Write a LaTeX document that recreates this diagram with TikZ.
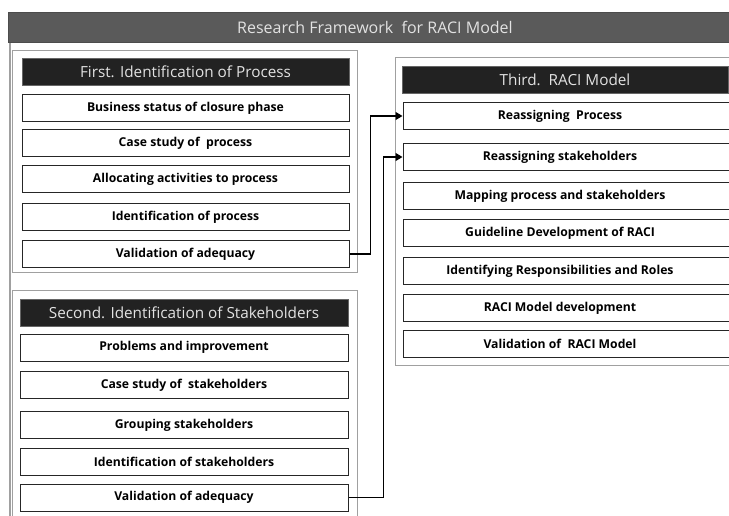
\documentclass[tikz,border=0pt]{standalone}
\usepackage{fontspec}
\setmainfont{Open Sans}
\usetikzlibrary{arrows.meta}
\definecolor{bargray}{HTML}{5A5A5A}
\definecolor{headblack}{HTML}{222222}
\definecolor{headtext}{HTML}{E2E2E2}
\definecolor{framegray}{HTML}{A0A0A0}
\begin{document}
\begin{tikzpicture}[x=1pt,y=-1pt,
  panel/.style={draw=framegray,line width=0.9pt},
  head/.style={draw=black!60,fill=headblack,text=headtext,line width=0.8pt,
    minimum height=27pt,inner sep=0pt,font=\fontsize{15.3}{17}\selectfont},
  item/.style={draw=black!85,line width=1pt,minimum height=27pt,inner sep=0pt,
    font=\bfseries\fontsize{12.2}{14}\selectfont},
  link/.style={line width=1.2pt,-{Triangle[length=7pt,width=8pt]}}]
\useasboundingbox (0,0) rectangle (729,516);
\clip (0,0) rectangle (729,516);
% outer frame and title
\fill[white] (0,0) rectangle (729,516);
\draw[framegray,line width=2pt] (10,42) -- (10,530);
\node[draw=black!70,fill=bargray,text=headtext,minimum width=734pt,minimum height=30pt,
  inner sep=0pt,font=\fontsize{16}{18}\selectfont] (title) at (375,27) {Research Framework\ \ for RACI Model};
% first panel
\draw[panel] (12,50) rectangle (357,272);
\node[head,minimum width=327pt] (head1) at (185.5,71.5) {First. Identification of Process};
\node[item,minimum width=327pt] (p1) at (185.5,108) {Business status of closure phase};
\node[item,minimum width=327pt] (p2) at (185.5,143.5) {Case study of\ \ process};
\node[item,minimum width=327pt] (p3) at (185.5,179.5) {Allocating activities\ to process};
\node[item,minimum width=327pt] (p4) at (185.5,217) {Identification of process};
\node[item,minimum width=327pt] (p5) at (185.5,254) {Validation of adequacy};
% second panel
\draw[panel] (12,290) rectangle (357,530);
\node[head,minimum width=328pt] (head2) at (184,312.5) {Second. Identification of Stakeholders};
\node[item,minimum width=328pt] (s1) at (184,347.5) {Problems and improvement};
\node[item,minimum width=328pt] (s2) at (184,385) {Case study of\ \ stakeholders};
\node[item,minimum width=328pt] (s3) at (184,425) {Grouping stakeholders};
\node[item,minimum width=328pt] (s4) at (184,462) {Identification of stakeholders};
\node[item,minimum width=328pt] (s5) at (184,497.5) {Validation of adequacy};
% third panel
\draw[panel] (395,57) rectangle (745,365);
\node[head,minimum width=326pt] (head3) at (565,80) {Third.\ \ RACI Model};
\node[item,minimum width=340pt] (r1) at (573,116) {\hspace*{-26pt}Reassigning\ \ Process};
\node[item,minimum width=340pt] (r2) at (573,157) {\hspace*{-26pt}Reassigning stakeholders};
\node[item,minimum width=340pt] (r3) at (573,196) {\hspace*{-26pt}Mapping process and stakeholders};
\node[item,minimum width=340pt] (r4) at (573,233) {\hspace*{-26pt}Guideline Development of RACI};
\node[item,minimum width=340pt] (r5) at (573,271) {\hspace*{-26pt}Identifying Responsibilities and Roles};
\node[item,minimum width=340pt] (r6) at (573,308) {\hspace*{-26pt}RACI Model development};
\node[item,minimum width=340pt] (r7) at (573,343.5) {\hspace*{-26pt}Validation of\ \ RACI Model};
% connectors
\draw[link] (p5.east) -- ++(21,0) |- (r1.west);
\draw[link] (s5.east) -- ++(35,0) |- (r2.west);
\end{tikzpicture}
\end{document}
